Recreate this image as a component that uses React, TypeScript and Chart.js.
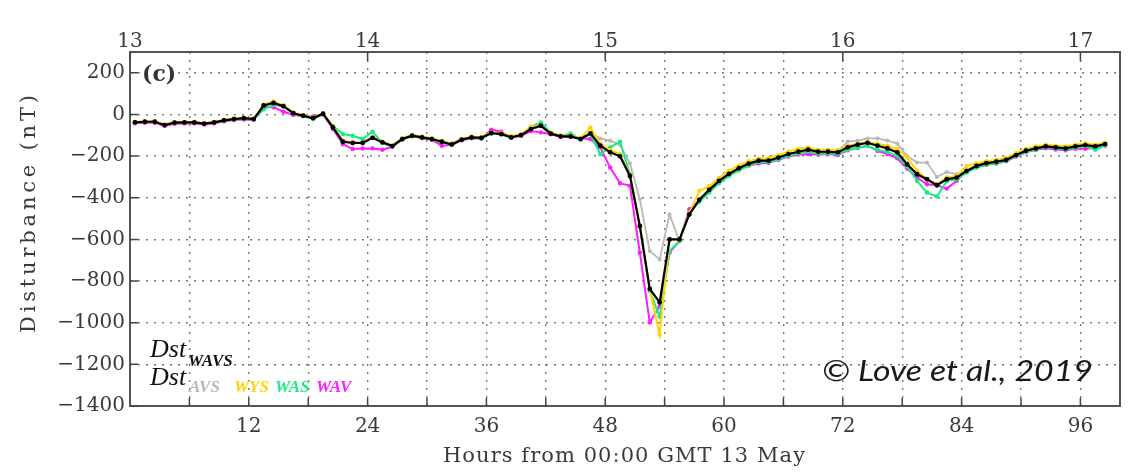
import React, { useEffect, useRef } from 'react';
import { Chart, registerables } from 'chart.js';

Chart.register(...registerables);

// hourly samples, centred on the half hour (hours from 00:00 GMT 13 May)
const hours: number[] = Array.from({ length: 99 }, (_, i) => i + 0.5);

const dstWAVS = [
  -38, -35, -35, -51, -39, -38, -38, -44, -38, -28,
  -22, -18, -22, 43, 55, 40, 6, -6, -18, 4,
  -62, -131, -137, -137, -112, -134, -152, -118, -102, -110,
  -118, -131, -144, -121, -110, -112, -89, -94, -110, -99,
  -70, -54, -92, -105, -105, -118, -91, -150, -182, -201,
  -295, -535, -838, -902, -600, -600, -480, -410, -362, -319,
  -285, -258, -236, -222, -222, -207, -190, -179, -169, -179,
  -179, -182, -158, -145, -136, -150, -163, -182, -239, -287,
  -311, -340, -311, -303, -271, -247, -234, -227, -218, -195,
  -174, -163, -153, -158, -163, -153, -147, -153, -142,
];

const dstAVS = [
  -36, -34, -36, -49, -40, -37, -39, -43, -37, -27,
  -21, -19, -20, 45, 52, 38, 8, -5, -16, 2,
  -58, -125, -135, -133, -108, -130, -148, -115, -100, -108,
  -116, -128, -140, -118, -108, -110, -88, -92, -106, -97,
  -70, -58, -90, -102, -103, -115, -90, -115, -126, -146,
  -235, -407, -656, -696, -480, -608, -478, -405, -360, -322,
  -290, -262, -240, -225, -224, -210, -192, -182, -172, -180,
  -180, -175, -130, -126, -115, -115, -125, -140, -200, -231,
  -231, -300, -276, -287, -271, -250, -236, -229, -220, -197,
  -176, -165, -155, -160, -163, -155, -150, -155, -145,
];

const dstWYS = [
  -36, -33, -34, -48, -37, -36, -36, -42, -36, -25,
  -19, -16, -20, 47, 62, 44, 9, -4, -15, 6,
  -58, -128, -135, -135, -110, -131, -150, -114, -99, -106,
  -114, -128, -140, -118, -106, -108, -86, -90, -104, -95,
  -60, -52, -88, -101, -102, -115, -62, -140, -171, -190,
  -290, -540, -840, -1058, -600, -600, -475, -367, -345, -305,
  -270, -245, -225, -212, -210, -195, -178, -166, -158, -170,
  -170, -172, -150, -140, -133, -140, -150, -165, -207, -270,
  -311, -335, -303, -295, -247, -235, -224, -218, -208, -185,
  -165, -154, -145, -150, -153, -145, -138, -145, -135,
];

const dstWAS = [
  -38, -36, -35, -50, -40, -38, -37, -44, -39, -30,
  -24, -20, -22, 25, 45, 40, 4, -8, -22, 2,
  -55, -94, -102, -118, -83, -137, -153, -120, -104, -112,
  -120, -133, -146, -122, -112, -114, -92, -96, -112, -100,
  -60, -38, -88, -104, -91, -120, -95, -190, -158, -131,
  -287, -540, -849, -970, -656, -608, -470, -420, -375, -330,
  -295, -268, -245, -230, -228, -215, -198, -188, -178, -188,
  -186, -190, -170, -160, -150, -170, -180, -200, -250, -319,
  -375, -394, -320, -311, -279, -255, -240, -235, -222, -200,
  -180, -168, -158, -162, -168, -160, -152, -170, -148,
];

const dstWAV = [
  -42, -40, -40, -55, -45, -43, -43, -48, -43, -33,
  -27, -24, -25, 38, 35, 13, -2, -8, -10, 0,
  -70, -142, -166, -163, -163, -169, -155, -120, -104, -114,
  -122, -150, -146, -124, -114, -116, -73, -83, -112, -103,
  -80, -86, -95, -108, -108, -115, -118, -158, -255, -330,
  -343, -664, -998, -921, -663, -608, -455, -415, -370, -320,
  -285, -260, -245, -235, -232, -218, -202, -192, -190, -192,
  -190, -195, -172, -160, -150, -175, -190, -210, -260, -303,
  -335, -340, -356, -319, -271, -255, -242, -236, -225, -202,
  -182, -170, -162, -168, -172, -165, -165, -160, -150,
];

const yTicks = [-1400, -1200, -1000, -800, -600, -400, -200, 0, 200];
const xTicks = [6, 12, 18, 24, 30, 36, 42, 48, 54, 60, 66, 72, 78, 84, 90, 96];
const xLabelTicks = [12, 24, 36, 48, 60, 72, 84, 96];
const dayTicks = [0, 24, 48, 72, 96];
const dayLabels = ['13', '14', '15', '16', '17'];

const C_BLACK = '#000000';
const C_GRAY = '#b8b8b8';
const C_YELLOW = '#ffd400';
const C_GREEN = '#19ec7f';
const C_MAGENTA = '#ff1cff';

const LABEL_FONT = '"DejaVu Serif", serif';

function drawSpaced(ctx: CanvasRenderingContext2D, text: string, cx: number, cy: number, width: number) {
  const chars = [...text];
  const ws = chars.map((c) => ctx.measureText(c).width);
  const total = ws.reduce((a, b) => a + b, 0);
  const gap = chars.length > 1 ? (width - total) / (chars.length - 1) : 0;
  let x = cx - width / 2;
  ctx.textAlign = 'left';
  chars.forEach((c, i) => {
    ctx.fillText(c, x, cy);
    x += ws[i] + gap;
  });
}

const decor = {
  id: 'decor',
  afterDraw(chart: any) {
    const ctx: CanvasRenderingContext2D = chart.ctx;
    const a = chart.chartArea;
    const sx = chart.scales.x;
    const sy = chart.scales.y;
    ctx.save();
    // frame
    ctx.strokeStyle = '#555555';
    ctx.lineWidth = 2;
    ctx.setLineDash([]);
    ctx.strokeRect(a.left, a.top, a.right - a.left, a.bottom - a.top);
    // inward ticks
    ctx.strokeStyle = '#444444';
    ctx.lineWidth = 1.5;
    ctx.beginPath();
    yTicks.forEach((v) => {
      const p = sy.getPixelForValue(v);
      ctx.moveTo(a.left, p);
      ctx.lineTo(a.left + 8, p);
    });
    xTicks.forEach((v) => {
      const p = sx.getPixelForValue(v);
      ctx.moveTo(p, a.bottom);
      ctx.lineTo(p, a.bottom - 8);
    });
    dayTicks.forEach((v) => {
      const p = sx.getPixelForValue(v);
      ctx.moveTo(p, a.top);
      ctx.lineTo(p, a.top + 9);
    });
    ctx.stroke();

    // axis titles
    ctx.fillStyle = '#3a3a3a';
    ctx.font = `21px ${LABEL_FONT}`;
    ctx.textBaseline = 'middle';
    drawSpaced(ctx, 'Hours from 00:00 GMT 13 May', 624, 457, 362);
    ctx.save();
    ctx.translate(30, 214);
    ctx.rotate(-Math.PI / 2);
    drawSpaced(ctx, 'Disturbance (nT)', 0, 0, 238);
    ctx.restore();

    // panel tag
    ctx.fillStyle = '#333333';
    ctx.font = `bold 22px ${LABEL_FONT}`;
    ctx.textAlign = 'left';
    ctx.textBaseline = 'middle';
    ctx.fillText('(c)', 142, 75);

    // legend text
    ctx.textBaseline = 'alphabetic';
    ctx.fillStyle = '#111111';
    ctx.font = 'italic 26px "Liberation Serif", serif';
    ctx.fillText('Dst', 150, 357);
    ctx.fillText('Dst', 150, 385);
    ctx.font = 'italic bold 17px "Liberation Serif", serif';
    ctx.fillStyle = '#111111';
    ctx.fillText('WAVS', 188, 366);
    const subs: [string, string, number][] = [
      ['AVS', C_GRAY, 189],
      ['WYS', C_YELLOW, 234],
      ['WAS', C_GREEN, 275],
      ['WAV', C_MAGENTA, 316],
    ];
    subs.forEach(([t, c, x]) => {
      ctx.fillStyle = c;
      ctx.fillText(t, x, 392);
    });

    // copyright
    ctx.fillStyle = '#1a1a1a';
    ctx.font = 'italic 29px Lato, "Open Sans", sans-serif';
    const txt = '\u00A9 Love et al., 2019';
    const w = ctx.measureText(txt).width;
    ctx.save();
    ctx.translate(822, 381);
    ctx.scale(271 / w, 1);
    ctx.fillText(txt, 0, 0);
    ctx.restore();

    ctx.restore();
  },
};

export default function App() {
  const ref = useRef<HTMLCanvasElement | null>(null);

  useEffect(() => {
    if (!ref.current) return;
    const mk = (label: string, vals: number[], color: string, width: number, radius: number) => ({
      label,
      data: hours.map((h, i) => ({ x: h, y: vals[i] })),
      borderColor: color,
      backgroundColor: color,
      borderWidth: width,
      pointRadius: radius,
      pointBorderWidth: 0,
      pointBackgroundColor: color,
      tension: 0,
    });
    const gridStyle = { color: '#7a7a7a', lineWidth: 1.4, drawTicks: false };
    const chart = new Chart(ref.current, {
      type: 'line',
      data: {
        datasets: [
          mk('WAVS', dstWAVS, C_BLACK, 2.2, 2.4),
          mk('WYS', dstWYS, C_YELLOW, 2, 2.2),
          mk('WAS', dstWAS, C_GREEN, 2, 2.2),
          mk('WAV', dstWAV, C_MAGENTA, 2, 2.2),
          mk('AVS', dstAVS, C_GRAY, 1.8, 2),
        ],
      },
      options: {
        responsive: false,
        animation: false,
        layout: { padding: { left: 0, right: 10, top: 0, bottom: 0 } },
        plugins: { legend: { display: false }, tooltip: { enabled: false } },
        scales: {
          x: {
            type: 'linear',
            position: 'bottom',
            min: 0,
            max: 100,
            afterBuildTicks: (s: any) => {
              s.ticks = xTicks.map((v) => ({ value: v }));
            },
            afterFit: (s: any) => {
              s.height = 69;
            },
            grid: gridStyle,
            border: { display: false, dash: [2, 6] },
            ticks: {
              autoSkip: false,
              maxRotation: 0,
              padding: 9,
              color: '#3a3a3a',
              font: { family: LABEL_FONT, size: 20 },
              callback: (v: any) => (xLabelTicks.includes(Number(v)) ? String(v) : ''),
            },
          },
          xTop: {
            type: 'linear',
            position: 'top',
            min: 0,
            max: 100,
            afterBuildTicks: (s: any) => {
              s.ticks = dayTicks.map((v) => ({ value: v }));
            },
            afterFit: (s: any) => {
              s.height = 52;
            },
            grid: { display: false, drawTicks: false },
            border: { display: false },
            ticks: {
              autoSkip: false,
              maxRotation: 0,
              padding: -2,
              color: '#3a3a3a',
              font: { family: LABEL_FONT, size: 20 },
              callback: (v: any) => {
                const i = dayTicks.indexOf(Number(v));
                return i >= 0 ? dayLabels[i] : '';
              },
            },
          },
          y: {
            type: 'linear',
            min: -1400,
            max: 300,
            afterBuildTicks: (s: any) => {
              s.ticks = yTicks.map((v) => ({ value: v }));
            },
            afterFit: (s: any) => {
              s.width = 130;
            },
            grid: gridStyle,
            border: { display: false, dash: [2, 6] },
            ticks: {
              padding: 5,
              color: '#3a3a3a',
              font: { family: LABEL_FONT, size: 20 },
              callback: (v: any) => (Number(v) < 0 ? '\u2212' + Math.abs(Number(v)) : String(v)),
            },
          },
        },
      },
      plugins: [decor],
    } as any);
    return () => chart.destroy();
  }, []);

  return (
    <div style={{ position: 'absolute', left: 0, top: 0, width: 1130, height: 475, background: '#ffffff' }}>
      <canvas ref={ref} width={1130} height={475} />
    </div>
  );
}
